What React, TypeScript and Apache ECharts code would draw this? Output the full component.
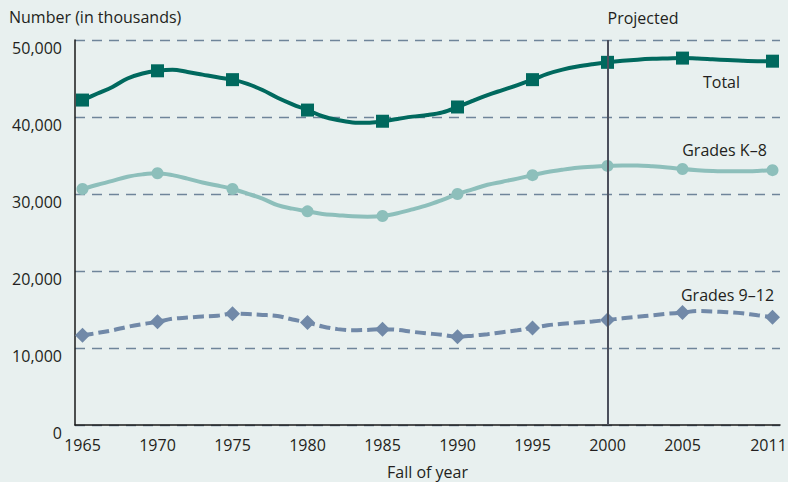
import React, { useEffect, useRef } from "react";
import * as echarts from "echarts";

const years = [
  "1965", "1966", "1967", "1968", "1969", "1970", "1971", "1972", "1973", "1974",
  "1975", "1976", "1977", "1978", "1979", "1980", "1981", "1982", "1983", "1984",
  "1985", "1986", "1987", "1988", "1989", "1990", "1991", "1992", "1993", "1994",
  "1995", "1996", "1997", "1998", "1999", "2000", "2001", "2002", "2003", "2004",
  "2005", "2006", "2007", "2008", "2009", "2010", "2011",
];

const markedYears = ["1965", "1970", "1975", "1980", "1985", "1990", "1995", "2000", "2005", "2011"];

const totalValues = [
  42200, 43050, 43900, 45000, 45650, 46000, 46150, 45850, 45500, 45150,
  44850, 44300, 43500, 42500, 41650, 40900, 40100, 39600, 39300, 39250,
  39450, 39750, 40050, 40250, 40600, 41300, 42100, 42850, 43500, 44150,
  44850, 45600, 46150, 46550, 46850, 47100, 47300, 47450, 47550, 47600,
  47650, 47600, 47500, 47400, 47300, 47250, 47250,
];

const k8Values = [
  30650, 31200, 31700, 32250, 32550, 32700, 32450, 32000, 31500, 31100,
  30650, 30050, 29400, 28550, 28100, 27750, 27400, 27250, 27100, 27050,
  27150, 27500, 28000, 28550, 29250, 30000, 30600, 31200, 31600, 32000,
  32450, 32850, 33150, 33400, 33550, 33650, 33700, 33700, 33600, 33450,
  33250, 33100, 33000, 32950, 32950, 33000, 33100,
];

const g912Values = [
  11650, 11950, 12300, 12750, 13100, 13400, 13800, 13950, 14100, 14200,
  14450, 14400, 14300, 14150, 13700, 13300, 12800, 12450, 12300, 12350,
  12450, 12350, 12100, 11900, 11700, 11450, 11600, 11800, 12050, 12300,
  12600, 12950, 13150, 13300, 13450, 13650, 13850, 14050, 14250, 14450,
  14600, 14800, 14750, 14650, 14500, 14250, 14000,
];

const yTicks = [0, 10000, 20000, 30000, 40000, 50000];
const projectedYear = "2000";
const labelYear = "2005";
const lastYear = "2011";

const FONT = "'Open Sans', sans-serif";
const TEXT = "#231f20";

function buildData(values: number[], label: string, offset: number[]) {
  return values.map((v, i) =>
    years[i] === labelYear
      ? {
          value: v,
          label: {
            show: true,
            formatter: label,
            position: "inside",
            offset,
            color: TEXT,
            fontSize: 16,
            fontFamily: FONT,
          },
        }
      : v
  );
}

export default function App() {
  const ref = useRef<HTMLDivElement>(null);

  useEffect(() => {
    document.body.style.margin = "0";
    if (!ref.current) return;
    const chart = echarts.init(ref.current, null, { renderer: "svg" });
    const markSize = (size: any) => (_v: any, p: any) =>
      markedYears.includes(years[p.dataIndex]) ? size : 0;

    chart.setOption({
      animation: false,
      backgroundColor: "#e8f0ef",
      title: {
        text: "Number (in thousands)",
        left: 4,
        top: 4,
        textStyle: { color: TEXT, fontSize: 16, fontWeight: "normal", fontFamily: FONT },
      },
      grid: {
        left: 75,
        right: 8,
        top: 40,
        bottom: 57,
        containLabel: false,
        outerBoundsMode: "none",
      },
      xAxis: {
        type: "category",
        data: years,
        boundaryGap: true,
        name: "Fall of year",
        nameLocation: "middle",
        nameGap: 39,
        nameTextStyle: { color: TEXT, fontSize: 16, fontFamily: FONT },
        axisLine: { lineStyle: { color: "#1a1a1a", width: 1.5 } },
        axisTick: {
          alignWithLabel: true,
          interval: 0,
          length: 6,
          lineStyle: { color: "#1a1a1a", width: 1 },
        },
        axisLabel: {
          interval: (_i: number, v: string) => markedYears.includes(v),
          formatter: (v: string) => (v === lastYear ? `{last|${v}}` : v),
          rich: {
            last: {
              color: TEXT,
              fontSize: 16,
              fontFamily: FONT,
              padding: [0, 8, 0, 0],
            },
          },
          color: TEXT,
          fontSize: 16,
          fontFamily: FONT,
          margin: 12,
        },
        splitLine: { show: false },
      },
      yAxis: {
        type: "value",
        min: yTicks[0],
        max: yTicks[yTicks.length - 1],
        interval: 10000,
        axisLine: { show: true, lineStyle: { color: "#1a1a1a", width: 1.5 } },
        axisTick: { show: false },
        axisLabel: {
          color: TEXT,
          fontSize: 16,
          fontFamily: FONT,
          margin: 13,
          verticalAlign: "top",
          lineHeight: 16,
          formatter: (v: number) => v.toLocaleString("en-US"),
        },
        splitLine: {
          show: true,
          lineStyle: { color: "#6f859a", width: 1.3, type: [10, 7] },
        },
      },
      series: [
        {
          name: "Total",
          type: "line",
          data: buildData(totalValues, "Total", [39, 24]),
          smooth: 0.35,
          showAllSymbol: true,
          symbol: "rect",
          symbolSize: markSize(13),
          itemStyle: { color: "#00695e" },
          lineStyle: { color: "#00695e", width: 4 },
          z: 3,
          markLine: {
            silent: true,
            symbol: "none",
            data: [{ xAxis: projectedYear }],
            lineStyle: { color: "#4b4f5c", width: 2, type: "solid" },
            label: {
              show: true,
              formatter: "Projected",
              position: "end",
              align: "left",
              distance: 14,
              color: TEXT,
              fontSize: 16,
              fontFamily: FONT,
            },
          },
        },
        {
          name: "Grades K–8",
          type: "line",
          data: buildData(k8Values, "Grades K–8", [42, -19]),
          smooth: 0.35,
          showAllSymbol: true,
          symbol: "circle",
          symbolSize: markSize(12),
          itemStyle: { color: "#8dbfbb" },
          lineStyle: { color: "#8dbfbb", width: 4 },
          z: 2,
        },
        {
          name: "Grades 9–12",
          type: "line",
          data: buildData(g912Values, "Grades 9–12", [45, -18]),
          smooth: 0.35,
          showAllSymbol: true,
          symbol: "diamond",
          symbolSize: markSize([15, 15]),
          itemStyle: { color: "#7189a8" },
          lineStyle: { color: "#7189a8", width: 4, type: [11, 5] },
          z: 2,
        },
      ],
    });
    return () => chart.dispose();
  }, []);

  return (
    <div
      ref={ref}
      style={{ position: "fixed", left: 0, top: 0, width: 788, height: 482 }}
    />
  );
}
